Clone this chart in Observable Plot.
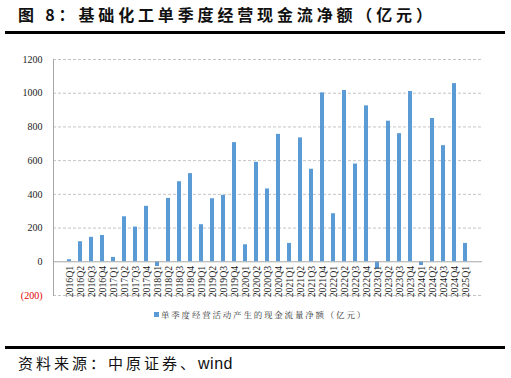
<!DOCTYPE html>
<html><head><meta charset="utf-8">
<script src="https://cdn.jsdelivr.net/npm/d3@7"></script>
<script src="https://cdn.jsdelivr.net/npm/@observablehq/plot@0.6"></script>
<style>
body{margin:0;width:511px;height:378px;position:relative;background:#fff;overflow:hidden;font-family:"Noto Sans CJK SC",sans-serif}
#title{position:absolute;left:18px;top:2px;font-size:16px;font-weight:bold;letter-spacing:3.85px;white-space:nowrap;color:#111;line-height:24px}
.rule{position:absolute;left:5px;width:500px;height:2.5px;background:#000}
#chart{position:absolute;left:0;top:40px}
#legend{position:absolute;top:307px;left:154px;font-size:8.5px;letter-spacing:1.8px;white-space:nowrap;color:#333;line-height:14px;font-family:"Noto Serif CJK SC","Noto Sans CJK SC",serif}
#legend span.sw{display:inline-block;width:5px;height:5px;background:#5B9BD5;margin-right:2px;vertical-align:1px}
#source{position:absolute;left:18px;top:352px;font-size:15px;letter-spacing:3px;white-space:nowrap;color:#111;line-height:22px}
#source .en{letter-spacing:0.5px;font-family:"Liberation Sans",Arial,sans-serif;font-size:16px}
</style></head>
<body>
<div id="title">图 8：基础化工单季度经营现金流净额（亿元）</div>
<div class="rule" style="top:31px"></div>
<div id="chart"></div>
<div id="legend"><span class="sw"></span>单季度经营活动产生的现金流量净额（亿元）</div>
<div class="rule" style="top:346px"></div>
<div id="source">资料来源：中原证券、<span class="en">wind</span></div>
<script>
const quarters = ["2016Q1","2016Q2","2016Q3","2016Q4","2017Q1","2017Q2","2017Q3","2017Q4",
"2018Q1","2018Q2","2018Q3","2018Q4","2019Q1","2019Q2","2019Q3","2019Q4",
"2020Q1","2020Q2","2020Q3","2020Q4","2021Q1","2021Q2","2021Q3","2021Q4",
"2022Q1","2022Q2","2022Q3","2022Q4","2023Q1","2023Q2","2023Q3","2023Q4",
"2024Q1","2024Q2","2024Q3","2024Q4","2025Q1"];
const values = [12,119,145,156,26,267,206,329,
-28,376,475,523,220,374,394,707,
101,590,432,756,109,735,549,1002,
285,1016,580,925,-42,834,760,1010,
-22,850,689,1057,109];
const yTicks = [0,200,400,600,800,1000,1200];
const negTicks = [-200];

const data = quarters.map((q,i)=>({q, v: values[i]}));
const serif = "'Liberation Serif','Times New Roman',serif";

const chart = Plot.plot({
  width: 511, height: 270,
  marginTop: 19, marginBottom: 15, marginLeft: 53, marginRight: 29,
  style: {fontFamily: serif, background: "transparent"},
  x: {domain: quarters, paddingInner: 0.6, paddingOuter: 0.3, axis: null},
  y: {domain: [-200, 1200], axis: null},
  marks: [
    Plot.gridY([...negTicks, ...yTicks.filter(d=>d>0)], {stroke: "#c4c4c4", strokeOpacity: 1, strokeDasharray: "3,2"}),
    Plot.barY(data, {x: "q", y: "v", fill: "#5B9BD5"}),
    Plot.ruleY([0], {stroke: "#a6a6a6"}),
    Plot.frame({anchor: "left", stroke: "#a6a6a6"}),
    Plot.axisY(yTicks, {label: null, tickSize: 0, tickPadding: 11, fontSize: 10, fill: "#222", fontFamily: serif, tickFormat: d => String(d)}),
    Plot.axisY(negTicks, {label: null, tickSize: 0, tickPadding: 11, fontSize: 10, fill: "#e00000", fontFamily: serif, tickFormat: d => "(" + Math.abs(d) + ")"}),
    Plot.text(data, {x: "q", y: () => 0, text: "q", rotate: -90, textAnchor: "end", dy: 4, fontSize: 9.8, fill: "#222", fontFamily: serif})
  ]
});
document.getElementById("chart").appendChild(chart);
</script>
</body></html>
